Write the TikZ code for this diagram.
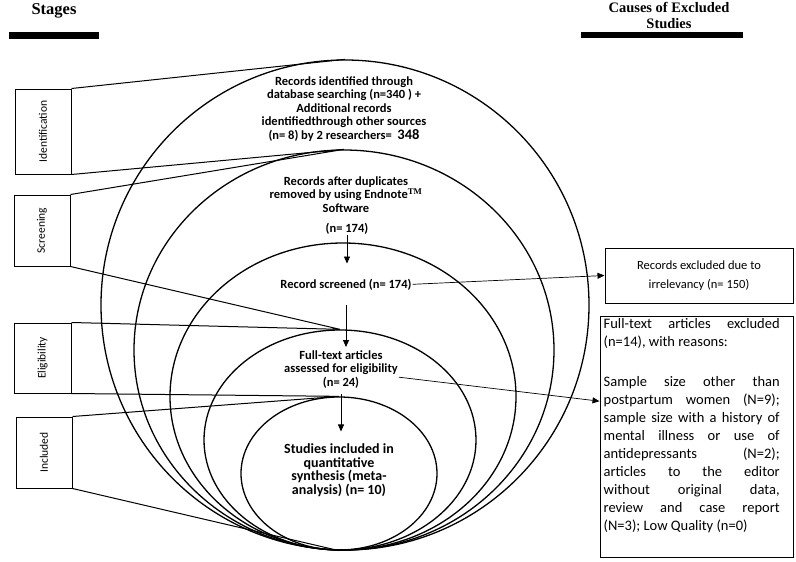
\documentclass[tikz,border=0pt]{standalone}
\usepackage{fontspec}
\setmainfont{Carlito}
\newfontfamily\headfont{Liberation Serif}
\usetikzlibrary{shapes,arrows,arrows.meta}
\usetikzlibrary{positioning}
\tikzset{
    stage/.style={
           rectangle,
           draw=black, line width=1pt,
           inner sep=0pt,
           font=\fontsize{11.5}{13}\selectfont
           },
    ring/.style={
           ellipse,
           draw=black, line width=1.3pt,
           inner sep=0pt
           },
    ringtext/.style={
           align=center,
           inner sep=1pt,
           font=\bfseries\fontsize{12.5}{13.5}\selectfont
           },
    excl/.style={
           rectangle,
           draw=black, line width=1pt,
           inner sep=0pt
           },
    head/.style={
           align=center,
           inner sep=0pt,
           font=\headfont\bfseries\fontsize{14.5}{15.5}\selectfont
           },
    hbar/.style={
           fill=black,
           inner sep=0pt
           }
}
\newcommand{\fxline}[1]{\makebox[176pt][s]{#1}}

\begin{document}
\begin{tikzpicture}[x=1pt, y=-1pt, >={Triangle[length=7pt,width=6pt]}]
\useasboundingbox (0,0) rectangle (796,562);
%\draw[help lines] (0,0) grid[step=50] (796,562);
   % headers (base = last line)
   \node[head, anchor=base, font=\headfont\bfseries\fontsize{16.5}{17}\selectfont] (stg) at (54,14) {Stages};
   \node[hbar, minimum width=90pt, minimum height=7pt] (stgbar) at (54,35.5) {};
   \node[head, anchor=base] (cau) at (669,28) {Causes of Excluded\\Studies};
   \node[hbar, minimum width=162pt, minimum height=6pt] (caubar) at (662,35) {};
   % rings
   \node[ring, minimum width=488pt, minimum height=490pt] (e1) at (345,305) {};
   \node[ring, minimum width=420pt, minimum height=400pt] (e2) at (344,350) {};
   \node[ring, minimum width=346pt, minimum height=307pt] (e3) at (343,396.5) {};
   \node[ring, minimum width=272pt, minimum height=220pt] (e4) at (340,440) {};
   \node[ring, minimum width=196pt, minimum height=153pt] (e5) at (339,473.5) {};
   % stages
   \node[stage, minimum width=56pt, minimum height=85pt] (ident) at (43,131.5) {\rotatebox{90}{Identification}};
   \node[stage, minimum width=56pt, minimum height=71pt] (scrn) at (42,230.5) {\rotatebox{90}{Screening}};
   \node[stage, minimum width=57pt, minimum height=70pt] (elig) at (42.5,358) {\rotatebox{90}{Eligibility}};
   \node[stage, minimum width=56pt, minimum height=71pt] (incl) at (44,452.5) {\rotatebox{90}{Included}};
   % texts in the rings
   \node[ringtext, anchor=base] (idt) at (344,139) {Records identified through\\database searching (n=340 ) +\\Additional records\\identifiedthrough other sources\\(n= 8) by 2 researchers=~ {\fontsize{14.5}{14}\selectfont 348}};
   \node[ringtext, anchor=base] (dup) at (346,212) {Records after duplicates\\removed by using Endnote\textsuperscript{\headfont TM}\\Software};
   \node[ringtext, anchor=base] (n174) at (347,232) {(n= 174)};
   \node[ringtext, anchor=base] (scr) at (346,288) {Record screened (n= 174)};
   \node[ringtext, anchor=base] (fte) at (341,386) {Full-text articles\\assessed for eligibility\\(n= 24)};
   \node[ringtext, anchor=base, font=\bfseries\fontsize{14}{13.5}\selectfont] (inc) at (339,494) {Studies included in\\quantitative\\synthesis (meta-\\analysis) (n= 10)};
   % excluded
   \node[excl, minimum width=188pt, minimum height=55pt, align=center, font=\fontsize{12.5}{19}\selectfont] (irr) at (699,275.5) {Records excluded due to\\irrelevancy (n= 150)};
   \node[excl, minimum width=193pt, minimum height=241pt] (fxbox) at (696.5,436.5) {};
   \node[anchor=north west, inner xsep=4pt, inner ysep=3pt, align=left, font=\fontsize{14.5}{18}\selectfont] (fxtext) at (fxbox.north west) {\fxline{Full-text articles excluded}\\(n=14), with reasons:\\[22pt]
      \fxline{Sample size other than}\\\fxline{postpartum women (N=9);}\\\fxline{sample size with a history of}\\\fxline{mental illness or use of}\\\fxline{antidepressants (N=2);}\\\fxline{articles to the editor}\\\fxline{without original data,}\\\fxline{review and case report}\\(N=3); Low Quality (n=0)};
   % stages to rings
   \path[draw, line width=1pt]
    (ident.north east) -- (e1.north)
    (ident.south east) -- (e2.north)
    (scrn.north east) -- (e2.north)
    (scrn.south east) -- (e4.north)
    (elig.north east) -- (e4.north)
    (elig.south east) -- (e5.north)
    (incl.north east) -- (e5.north)
    (incl.south east) -- (e5.south);
   % flow
   \draw[->, line width=0.8pt, shorten >=14pt] (n174.south) -- (n174.south |- scr.north);
   \draw[->, line width=0.8pt, shorten <=14pt, shorten >=2pt] (scr.south) -- (scr.south |- fte.north);
   \draw[->, line width=0.8pt, shorten <=5pt, shorten >=11pt] (fte.south) -- (fte.south |- inc.north);
   \draw[->, line width=0.7pt] (scr.east) -- (irr.west);
   \draw[->, line width=0.7pt] (fte.-8) -- (fxbox.160);
\end{tikzpicture}
\end{document}
